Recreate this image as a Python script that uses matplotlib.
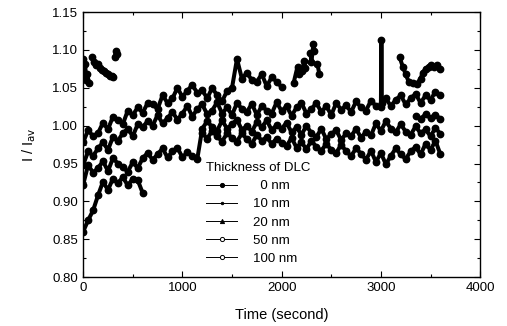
import numpy as np
import matplotlib
matplotlib.use("Agg")
import matplotlib.pyplot as plt
from matplotlib.ticker import MultipleLocator, FormatStrFormatter
from matplotlib.lines import Line2D

nan = np.nan
plt.rcParams['font.family'] = ['Liberation Sans', 'DejaVu Sans']

# time grid (s) used by the sampled series
time_grid = list(range(0, 3601, 50))

# 0 nm : upper band (ends ~2000 s) + short tail segment at the right
s0_values = [0.978, 0.994, 0.986, 0.990, 1.004, 0.995, 1.012, 1.008, 1.002, 1.020,
             1.014, 1.024, 1.017, 1.030, 1.028, 1.022, 1.040, 1.030, 1.036, 1.050,
             1.038, 1.046, 1.054, 1.043, 1.047, 1.036, 1.050, 1.040, 1.032, 1.046,
             1.050, 1.088, 1.062, 1.070, 1.060, 1.058, 1.068, 1.052, 1.064, 1.058,
             1.051, nan, nan, nan, nan, nan, nan, nan, nan, nan,
             nan, nan, nan, nan, nan, nan, nan, nan, nan, nan,
             nan, nan, nan, nan, nan, nan, nan, 1.013, 1.009, 1.015,
             1.010, 1.014, 1.009]

# 10 nm : middle band rising to 1.04, spike near 3000 s
s1_time = time_grid[:61] + [3005, 3010] + time_grid[61:]
s1_values = [0.948, 0.966, 0.960, 0.970, 0.978, 0.968, 0.985, 0.980, 0.990, 0.996,
             0.986, 1.002, 0.998, 1.006, 1.000, 1.014, 1.003, 1.010, 1.018, 1.008,
             1.016, 1.026, 1.012, 1.022, 1.028, 1.015, 1.020, 1.031, 1.016, 1.024,
             1.014, 1.030, 1.022, 1.018, 1.029, 1.014, 1.026, 1.020, 1.016, 1.031,
             1.019, 1.026, 1.013, 1.024, 1.030, 1.016, 1.022, 1.030, 1.018, 1.026,
             1.014, 1.030, 1.021, 1.027, 1.018, 1.032, 1.024, 1.020, 1.033, 1.026,
             1.024, 1.113, 1.030,
             1.036, 1.026, 1.034, 1.040, 1.028, 1.036, 1.042, 1.030, 1.040, 1.034,
             1.045, 1.040]

# 20 nm : low early band, jump at ~1200 s, then flat ~1.0
s2_values = [0.922, 0.948, 0.938, 0.944, 0.953, 0.940, 0.957, 0.950, 0.945, 0.939,
             0.952, 0.944, 0.957, 0.964, 0.955, 0.962, 0.970, 0.958, 0.966, 0.971,
             0.958, 0.965, 0.960, 0.956, 0.996, 1.006, 0.998, 0.993, 1.007, 0.996,
             1.002, 1.008, 0.994, 1.000, 0.992, 1.005, 0.998, 1.007, 0.994, 1.001,
             0.996, 1.004, 0.991, 0.998, 0.988, 1.000, 0.990, 0.985, 0.996, 0.982,
             0.989, 0.994, 0.981, 0.990, 0.986, 0.996, 0.984, 0.992, 0.987, 1.003,
             0.993, 1.006, 0.996, 0.991, 1.002, 0.992, 0.988, 0.999, 0.990, 0.995,
             0.986, 0.997, 0.989]

# 50 nm : lowest early segment, then lower band from ~1200 s
s3_values = [0.860, 0.875, 0.888, 0.908, 0.926, 0.915, 0.930, 0.924, 0.932, 0.921,
             0.930, 0.928, 0.911, nan, nan, nan, nan, nan, nan, nan,
             nan, nan, nan, nan, 0.990, 0.983, 0.993, 0.986, 0.979, 0.990,
             0.984, 0.979, 0.990, 0.982, 0.976, 0.988, 0.980, 0.985, 0.976, 0.983,
             0.977, 0.973, 0.984, 0.971, 0.978, 0.969, 0.980, 0.972, 0.967, 0.976,
             0.968, 0.964, 0.975, 0.966, 0.960, 0.970, 0.963, 0.955, 0.967, 0.952,
             0.964, 0.949, 0.960, 0.970, 0.962, 0.956, 0.966, 0.972, 0.962, 0.976,
             0.968, 0.980, 0.962]

# 100 nm : high scattered series (early cluster, mid scatter, late U shape)
s4_time = [0, 10, 20, 30, 40, 60, nan, 90, 110, 130, 150, 170, 190, 210, 230, 250,
           270, 290, 300, nan, 320, 330, 345, nan,
           2120, 2160, 2170, nan, 2210, 2225, 2240, nan, 2290, 2300, 2320, 2330, nan,
           2360, 2380, nan,
           3190, 3220, 3250, 3280, 3320, 3360, 3400, 3420, 3450, 3480, 3510, 3540,
           3570, 3600]
s4_values = [1.088, 1.070, 1.082, 1.060, 1.068, 1.056, nan, 1.090, 1.084, 1.080,
             1.082, 1.076, 1.074, 1.072, 1.070, 1.068, 1.066, 1.065, 1.064, nan,
             1.090, 1.098, 1.094, nan,
             1.056, 1.078, 1.068, nan, 1.072, 1.086, 1.076, nan, 1.096, 1.084,
             1.108, 1.098, nan, 1.082, 1.068, nan,
             1.090, 1.078, 1.068, 1.058, 1.056, 1.055, 1.062, 1.070, 1.075, 1.078,
             1.080, 1.078, 1.080, 1.075]

labels = ['\u20070 nm', '10 nm', '20 nm', '50 nm', '100 nm']
series = [(time_grid, s0_values), (s1_time, s1_values), (time_grid, s2_values),
          (time_grid, s3_values), (s4_time, s4_values)]
legend_markers = [dict(marker='o', ms=3.0, mfc='black'),
                  dict(marker='.', ms=3.5, mfc='black'),
                  dict(marker='^', ms=3.0, mfc='black'),
                  dict(marker='o', ms=3.0, mfc='white'),
                  dict(marker='o', ms=3.0, mfc='white')]

fig = plt.figure(figsize=(5.07, 3.26), dpi=100)
ax = fig.add_axes([0.164, 0.150, 0.783, 0.813])

for (t, v), lab in zip(series, labels):
    ax.plot(t, v, color='black', lw=2.9, marker='o', ms=4.6, mfc='black',
            mec='black', label=lab, solid_joinstyle='round',
            solid_capstyle='round')

ax.set_xlim(0, 4000)
ax.set_ylim(0.80, 1.15)
ax.xaxis.set_major_locator(MultipleLocator(1000))
ax.xaxis.set_minor_locator(MultipleLocator(500))
ax.yaxis.set_major_locator(MultipleLocator(0.05))
ax.yaxis.set_minor_locator(MultipleLocator(0.025))
ax.yaxis.set_major_formatter(FormatStrFormatter('%.2f'))
ax.tick_params(which='both', direction='in', top=True, right=True,
               labelsize=9.5, width=0.8, colors='black')
ax.tick_params(which='major', length=4)
ax.tick_params(which='minor', length=2)
for sp in ax.spines.values():
    sp.set_linewidth(1.0)

ax.set_xlabel('Time (second)', fontsize=10.5, labelpad=10)
ax.set_ylabel('I / I$_{\\rm av}$', fontsize=10.5, labelpad=10)

handles = [Line2D([0], [0], color='black', lw=0.7, mec='black', mew=0.7, **mk)
           for mk in legend_markers]
leg = ax.legend(handles, labels, title='Thickness of DLC', frameon=False,
                loc='upper left', bbox_to_anchor=(0.385, 0.535),
                bbox_transform=fig.transFigure, fontsize=9.5, title_fontsize=9.5,
                handlelength=2.4, handletextpad=1.2, labelspacing=0.45,
                borderpad=0.3)
leg._legend_box.align = 'left'

fig.savefig('out.png', dpi=100)
